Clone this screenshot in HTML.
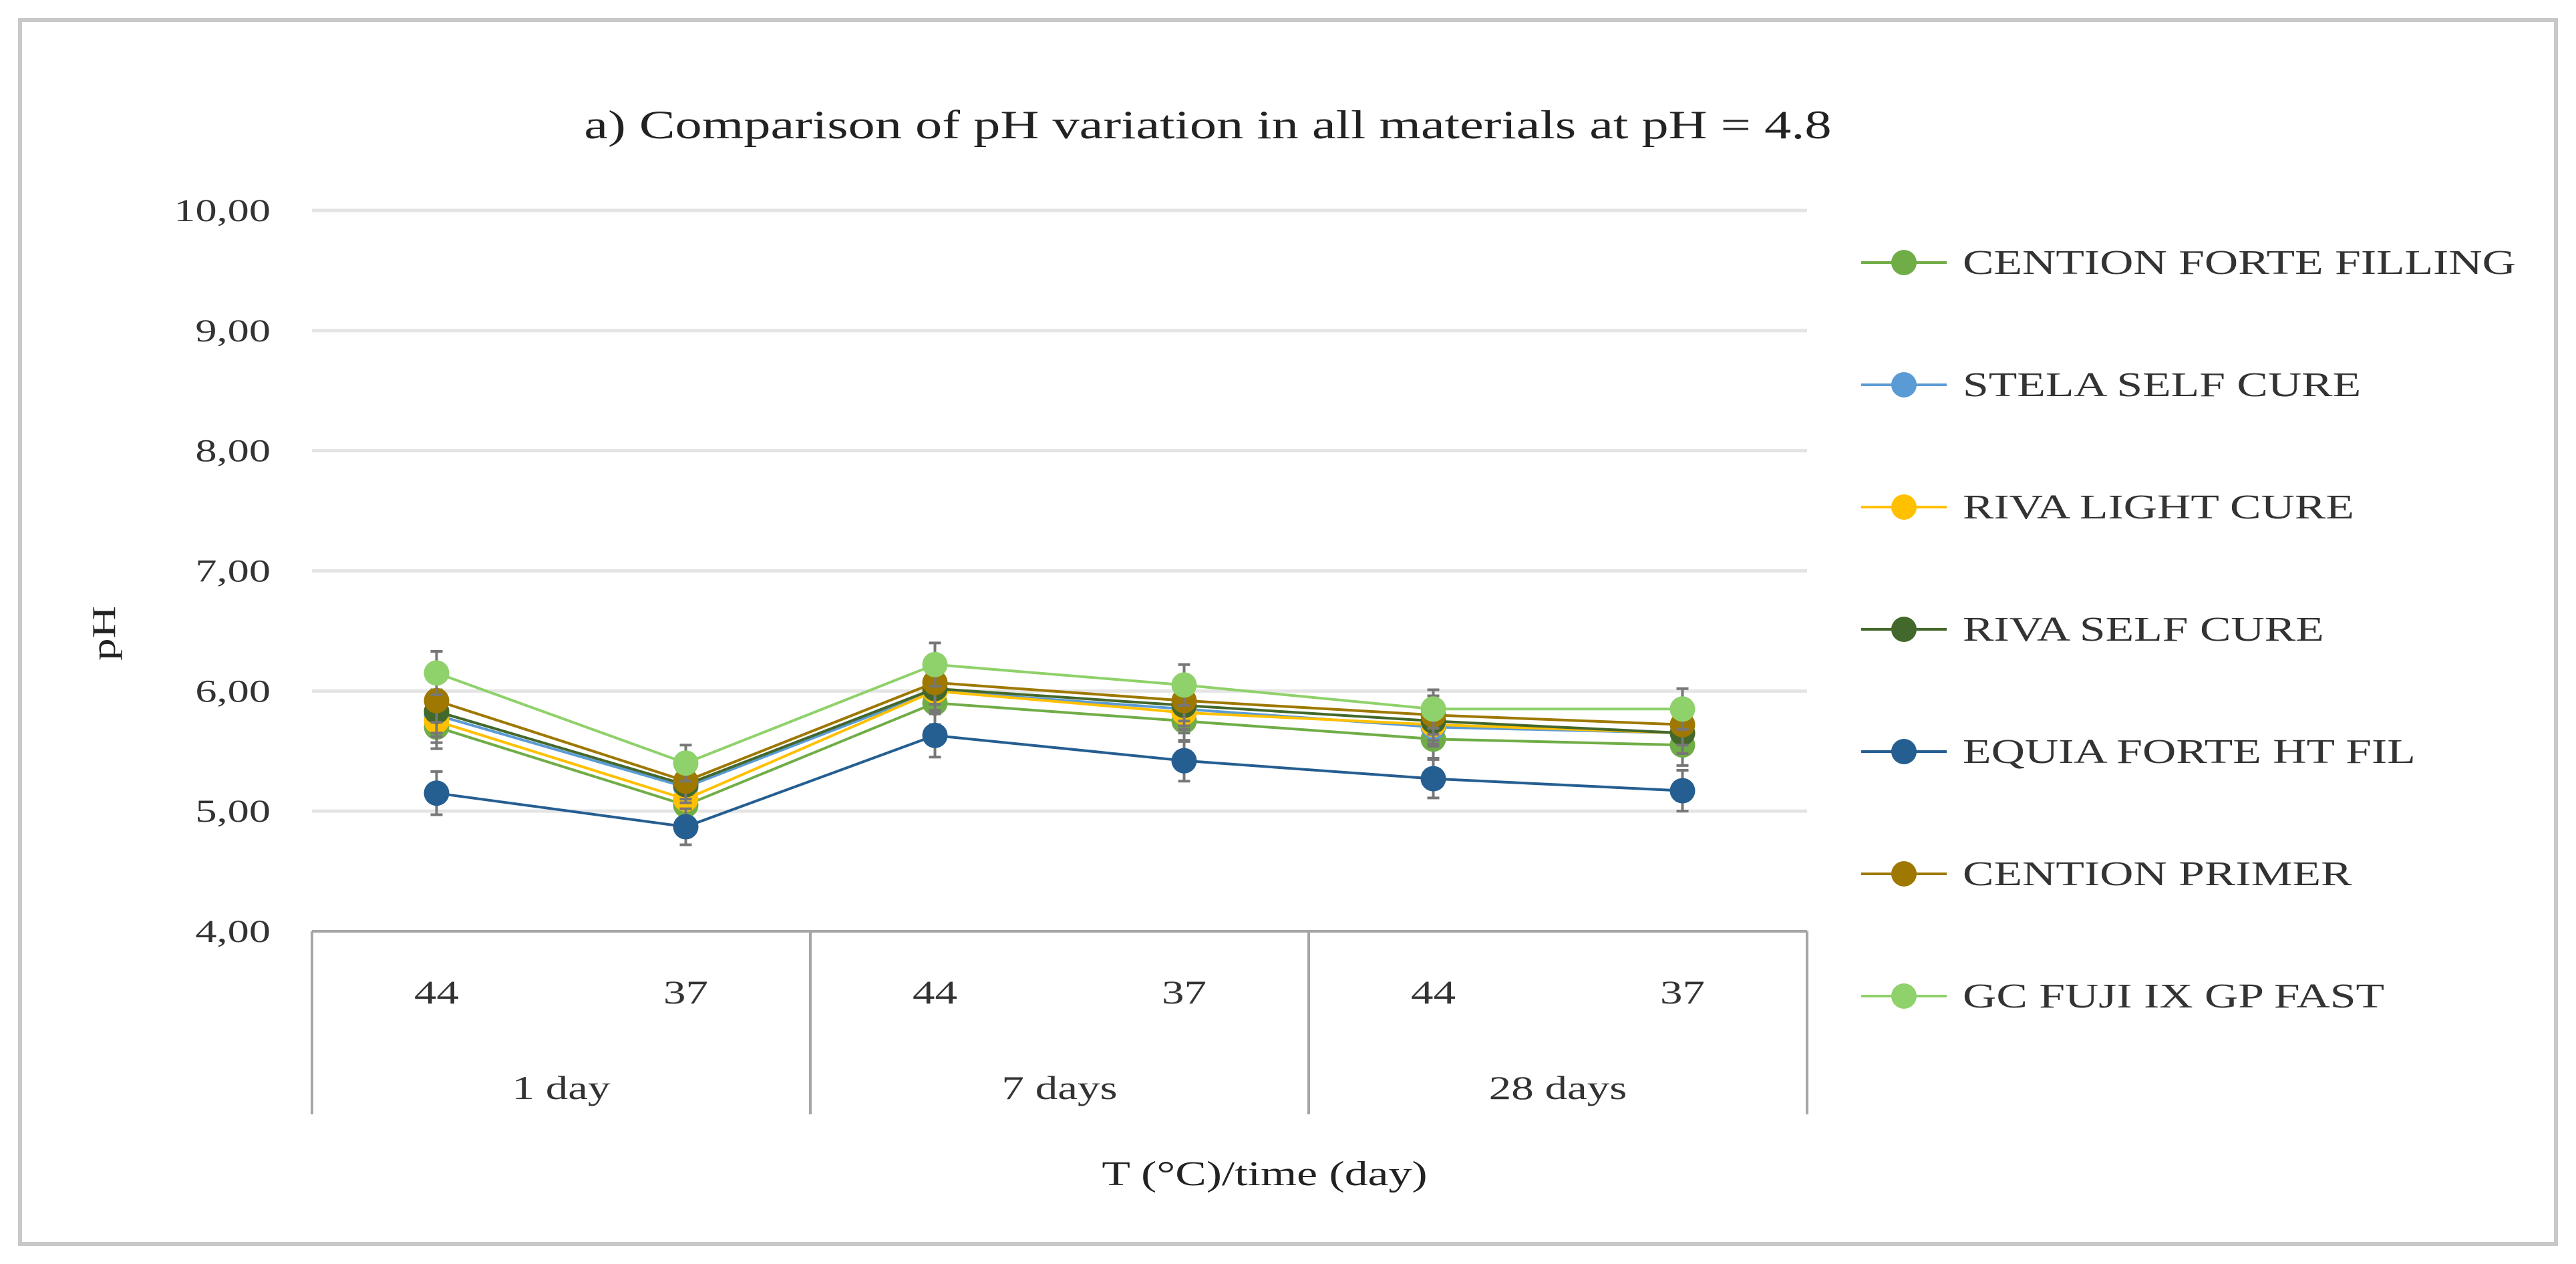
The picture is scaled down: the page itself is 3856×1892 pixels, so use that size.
<!DOCTYPE html>
<html><head><meta charset="utf-8"><style>
html,body{margin:0;padding:0;background:#fff;}
svg{display:block;font-family:"Liberation Serif",serif;}
</style></head><body>
<svg id="chart" width="3856" height="1892" viewBox="0 0 3856 1892" xmlns="http://www.w3.org/2000/svg">
<rect x="30" y="30" width="3796" height="1832" fill="#fff" stroke="#c8c8c8" stroke-width="6"/>
<text class="st" x="1808" y="207" font-size="60" text-anchor="middle" fill="#222">a) Comparison of pH variation in all materials at pH = 4.8</text>
<text class="st" transform="translate(172,948) rotate(-90)" font-size="50" text-anchor="middle" fill="#222">pH</text>
<text class="st" x="1893" y="1774" font-size="52" text-anchor="middle" fill="#222">T (°C)/time (day)</text>
<g id="grid"></g><g id="axes"></g><g id="series"></g><g id="legend"></g>
</svg>
<script>
const categories = ["44","37","44","37","44","37"];
const groups = ["1 day","7 days","28 days"];
const yTicks = [4,5,6,7,8,9,10];
const yTickLabels = ["4,00","5,00","6,00","7,00","8,00","9,00","10,00"];
const seriesNames = ["CENTION FORTE FILLING","STELA SELF CURE","RIVA LIGHT CURE","RIVA SELF CURE","EQUIA FORTE HT FIL","CENTION PRIMER","GC FUJI IX GP FAST"];
const seriesColors = ["#70ad47","#5b9bd5","#ffc000","#43682b","#255e91","#9e7800","#8fd16a"];
const centionForte = [5.70,5.05,5.90,5.75,5.60,5.55];
const stela = [5.80,5.20,6.00,5.85,5.70,5.65];
const rivaLight = [5.75,5.10,6.00,5.82,5.72,5.65];
const rivaSelf = [5.83,5.22,6.02,5.88,5.75,5.65];
const equia = [5.15,4.87,5.63,5.42,5.27,5.17];
const centionPrimer = [5.92,5.25,6.07,5.92,5.80,5.72];
const gcFuji = [6.15,5.40,6.22,6.05,5.85,5.85];
const errors = [0.18,0.15,0.18,0.17,0.16,0.17];
const allSeries = [centionForte,stela,rivaLight,rivaSelf,equia,centionPrimer,gcFuji];

const NS="http://www.w3.org/2000/svg";
const L=467,R=2705,T=315,B=1394,ymin=4,ymax=10;
const step=(R-L)/categories.length;
const xS=i=>L+step*(i+0.5);
const yS=v=>B-(v-ymin)/(ymax-ymin)*(B-T);
function mk(tag,attrs,parent){const e=document.createElementNS(NS,tag);for(const k in attrs)e.setAttribute(k,attrs[k]);parent.appendChild(e);return e;}
const grid=document.getElementById('grid'),axes=document.getElementById('axes'),ser=document.getElementById('series'),leg=document.getElementById('legend');
yTicks.forEach((v,i)=>{
  if(v!==ymin){const g=mk('line',{x1:L,x2:R,y1:yS(v),y2:yS(v),stroke:'#e4e4e4','stroke-width':5},grid);
  
  }
  const t=mk('text',{x:405,y:yS(v)+16,'font-size':48,'text-anchor':'end',fill:'#333',class:'st'},axes);
  t.textContent=yTickLabels[i];
  
  
});
const ax=mk('line',{x1:L,x2:R,y1:B,y2:B,stroke:'#a6a6a6','stroke-width':4},axes);


for(let g=0;g<=groups.length;g++){
  const x=L+g*2*step;
  const v=mk('line',{x1:x,x2:x,y1:B,y2:1668,stroke:'#a6a6a6','stroke-width':4},axes);
  
  
}
categories.forEach((c,i)=>{
  const t=mk('text',{x:xS(i),y:1502,'font-size':50,'text-anchor':'middle',fill:'#333',class:'st'},axes);
  t.textContent=c;
  
  
});
groups.forEach((g,i)=>{
  const t=mk('text',{x:L+step*(2*i+1),y:1645,'font-size':50,'text-anchor':'middle',fill:'#333',class:'st'},axes);
  t.textContent=g;
  
  
});
allSeries.forEach((vals,s)=>{
  const col=seriesColors[s];
  const grp=mk('g',{},ser);
  
  
  vals.forEach((v,i)=>{
    const e=errors[i];
    const eb=mk('path',{d:`M${xS(i)},${yS(v+e)}V${yS(v-e)}M${xS(i)-9},${yS(v+e)}h18M${xS(i)-9},${yS(v-e)}h18`,stroke:'#777','stroke-width':4,fill:'none'},grp);
    
    
  });
  const pl=mk('polyline',{points:vals.map((v,i)=>xS(i)+','+yS(v)).join(' '),fill:'none',stroke:col,'stroke-width':4},grp);
  
  
  vals.forEach((v,i)=>{
    const c=mk('circle',{cx:xS(i),cy:yS(v),r:19,fill:col},grp);
    
    
  });
  const ly=393+s*183;
  const lg=mk('g',{},leg);
  
  
  mk('line',{x1:2786,x2:2914,y1:ly,y2:ly,stroke:col,'stroke-width':4},lg);
  mk('circle',{cx:2850,cy:ly,r:19,fill:col},lg);
  const t=mk('text',{x:2938,y:ly+17,'font-size':52,fill:'#333',class:'st'},lg);
  t.textContent=seriesNames[s];
});
document.querySelectorAll('text.st').forEach(t=>{
  const w=t.getComputedTextLength();
  t.setAttribute('textLength',(w*1.34).toFixed(1));
  t.setAttribute('lengthAdjust','spacingAndGlyphs');
});
</script>
</body></html>
